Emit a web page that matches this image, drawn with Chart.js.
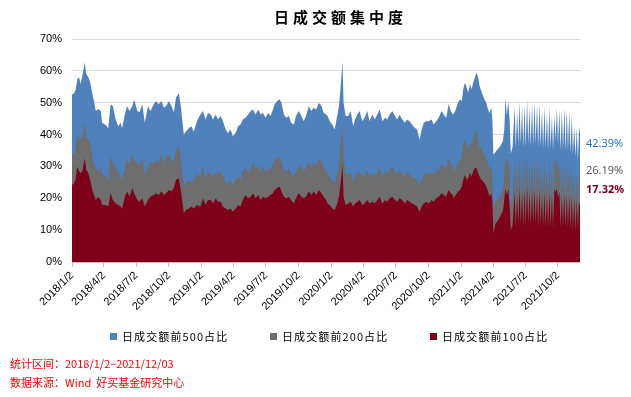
<!DOCTYPE html>
<html><head><meta charset="utf-8">
<script src="https://cdn.jsdelivr.net/npm/chart.js@4.4.0/dist/chart.umd.min.js"></script>
<style>
html,body{margin:0;padding:0;background:#fff;width:631px;height:397px;overflow:hidden;font-family:"Noto Sans CJK SC","Noto Sans",sans-serif}
#wrap{position:relative;width:631px;height:397px}
#c{position:absolute;left:0;top:0}
#title{position:absolute;left:274px;top:8px;font-size:15px;line-height:17px;font-weight:bold;letter-spacing:4px;color:#000;white-space:nowrap}
#legend{position:absolute;left:110px;top:328px;display:flex;align-items:center;font-size:11px;line-height:16px;color:#000;white-space:nowrap}
#legend .it{display:flex;align-items:center;width:160px}
#legend .sw{display:inline-block;width:7px;height:7px;margin-right:5px}
#legend .tx{letter-spacing:1.1px}
#notes{position:absolute;left:10px;top:354px;font-size:11px;line-height:19px;color:#ff0000;white-space:pre}
.vl{position:absolute;left:586px;font-family:"Noto Sans","DejaVu Sans",sans-serif;font-size:11px;line-height:14px;white-space:nowrap}
</style></head>
<body><div id="wrap">
<canvas id="c" width="631" height="397"></canvas>
<div id="title">日成交额集中度</div>
<div id="legend"></div>
<div id="notes"></div>
<div class="vl" id="v500" style="top:136px;color:#2e75b6"></div>
<div class="vl" id="v200" style="top:163px;color:#595959"></div>
<div class="vl" id="v100" style="top:182px;color:#7f0019;font-weight:bold"></div>
</div>
<script>
// days since 2018/1/2 for each sample
const dayOffsets = [
0,6,10,15,20,24,29,36,40,46,52,57,62,67,74,81,85,95,102,109,115,123,130,137,141,149,155,162,170,175,184,190,198,205,214,221,230,237,244,252,259,265,273,280,287,293,301,307,315,321,329,336,343,352,359,
362,369,376,383,391,397,405,411,419,425,433,439,447,453,461,468,475,481,489,496,503,510,517,525,531,538,545,553,559,566,571,578,585,590,597,603,611,617,625,631,639,646,653,659,667,674,681,688,695,703,709,716,
720,726,733,740,747,752,757,762,765,771,778,785,792,797,804,810,818,824,832,838,846,853,860,867,874,882,888,895,902,910,916,923,930,938,944,951,958,966,972,979,985,991,998,1005,1013,1019,1026,1033,1041,1047,1054,1061,1067,1073,
1074,1081,1087,1093,1098,1102,1107,1112,1116,1121,1126,1130,1135,1139,1144,1148,1153,1158,1162,1167,1172,1176,1181,1184,
1187,1193,1200,1207,1214,1218,1221,1225,1229,1233,1236,1241,
1247,1250,1254,1257,1261,1264,1268,1271,1275,1278,1282,1285,1289,1292,1296,1299,1303,1306,1310,1313,1317,1320,1324,1327,1331,1334,1338,1341,1345,1348,1352,1355,1359,1362,1366,1369,1373,1376,1380,1383,1387,1390,1394,1397,1401,1404,1408,1411,1415,1418,1422,1425,1428,1431
];
const top500 = [
52.6,53,54,57.4,58,55.8,58.4,62.6,59,58,56,53,50.5,47.4,48,47.4,43.7,43,42,49.5,49,44.7,42.6,43.7,42,46.3,49,47.4,49,51,47.4,47,49.5,43.7,49,47.4,49.5,50.5,49.5,50.5,48.4,49,50.5,49,47,51.6,53,48.4,40,41,42,42.6,41,44.2,45.8,
46.3,47.4,44.7,46.8,46.3,44.7,46.3,44.7,45.8,44.2,41.6,40.5,41.6,39.5,40.5,42.6,43.2,44.7,45.3,46.3,47.4,47.9,46.3,47.9,46.3,46.8,45.3,46.8,45.8,47.9,49.5,50.5,51,50,46.3,45.3,45.8,43.7,43.2,45.8,47.4,45.8,44.2,45.8,48.9,47.4,48.4,47.9,50,48.9,46.8,46.3,
45.8,44.2,43.2,41.6,45.8,48.9,55.3,62.8,50,45.8,45.8,47.4,42.6,44.7,46.3,47.4,44.2,45.3,47.4,44.2,46.3,44.7,46.3,47.9,44.2,45.3,44.7,46.3,47.4,45.8,44.7,46.3,44.7,43.7,44.7,44.2,43.2,42.1,41.6,38.4,41.6,43.7,44.2,44.2,44.7,43.2,44.2,45.3,47.4,46.3,45.3,49.5,47.4,46.3,
46.3,47.9,50,51,50.5,54.2,56.3,54.7,53.2,55.8,54.2,56.3,57.9,59.5,57.9,55.3,53.7,52.1,51,50,47.9,46.8,48.4,45,
33.7,34.5,35.5,36.5,38,42,51.5,46,50.5,44,34,36,
48.9,36,47.4,36.5,50.5,37,48.9,36,49.5,36,51,37,48.9,36,50,36.5,50.5,37,49.5,36,50,36,47.9,35.5,48.9,36,46.8,35,48.9,36,45.8,35,46.3,38,48.4,37,47.9,35,47.4,35,48.4,35,47.9,35,47.4,34,45.8,34,42.6,33,42.1,32,40.5,42.39
];
const top200 = [
34.2,33.7,35.3,40.5,38.4,39.5,38.4,44.2,39.5,38.4,37.4,33.7,30.5,29.5,28.4,29.5,27.4,26.8,25.8,33.2,31,29.5,27.9,26.8,25.8,29.5,32.1,31,33.7,32.1,31,30.5,32.6,27.4,30,31.6,30.5,32.1,31,33.7,31,33.2,33.7,32.1,31.6,35.3,36.3,32.1,23.7,24.7,25.8,24.7,25.8,27.9,26.8,
26.8,30,26.3,28.4,27.9,26.8,28.4,27.9,28.4,26.8,24.7,24.7,25.8,23.7,25.8,26.8,25.8,28.4,29.5,28.4,29.5,31,29.5,30,28.4,30,28.4,28.9,29.5,30.5,32.6,32.1,33.2,31.6,28.9,28.4,29.5,27.9,26.8,28.4,30.5,29.5,28.4,29.5,31.6,30,31,30.5,32.1,31.6,29.5,28.4,
27.9,26.8,25.8,24.7,27.9,31,37.4,42.7,32.1,27.9,27.4,28.4,25.3,26.8,27.9,28.4,26.8,27.4,28.9,26.8,27.9,26.8,27.9,30,26.8,28.4,27.9,28.9,30,28.4,27.4,28.9,27.9,26.8,28.4,27.4,26.8,26.3,25.8,23.7,25.8,27.4,27.9,27.4,28.4,27.4,28.4,28.9,31,30,29.5,32.6,31,30,
28.4,29.5,31,32.1,32.6,37.4,38.4,36.3,35.3,37.9,36.3,38.9,40.5,41.6,38.4,35.3,36.3,34.2,33.7,32.1,31,28.9,30,27.9,
17,19,20,21,23,27,34,30,33,27,18,20,
32,20,31,21,33,21,32,20,33,20,34,21,32,20,33,21,33,21,32,20,33,20.5,31,20,32,20,30,19.5,32,20,30,19,33,30,33,28,31,20,31,19.5,31,19.5,31,19,30.5,19,30,18.5,29,18,28.5,17.5,28,26.19
];
const top100 = [
24.2,24.7,25.8,30,28.4,27.9,28.4,32.6,28.9,27.9,25.3,22.6,21,19.5,20.5,19.5,17.9,17.9,17.4,21.6,19.5,18.4,17.9,17.4,16.8,20.5,22.1,20.5,23.2,21.6,19.5,18.9,20,17.4,19.5,20.5,21,21.6,21,22.1,21,21.6,22.6,22.1,23.2,25.8,26.3,22.1,15.3,16.3,16.8,17.4,16.8,17.9,17.4,
17.4,20,17.9,19.5,19.5,18.4,20,18.9,18.9,17.4,16.8,16.3,16.8,15.8,16.8,17.9,17.4,19.5,21,20,20.5,21.6,20,21,19.5,20.5,20,20.5,21,21.6,22.6,23.2,23.7,22.1,20.5,20,20.5,19.5,18.4,20,21.6,20.5,20,20.5,22.1,21,22.1,21,22.6,21.6,20.5,19.5,
18.4,17.9,16.8,16.3,18.4,20.5,24.7,30.6,20.5,17.9,18.4,18.9,17.4,18.4,18.9,19.5,17.9,18.4,19.5,18.4,18.9,18.4,19.5,20.5,18.4,19.5,18.9,20,20.5,19.5,18.9,20,19.5,18.4,19.5,18.9,18.4,17.9,17.4,15.8,17.4,18.4,18.9,18.4,19.5,18.9,20,20.5,21.6,21,20.5,22.6,21.6,21,
20,21,22.1,22.6,23.7,25.8,27.4,25.8,26.3,27.9,26.8,28.4,29.5,29.5,27.9,26.8,25.8,25.3,24.7,23.7,22.1,20.5,21.6,19.5,
9,12,13,14.5,16,20,23,21,23,17,10,11.5,
22,11,21,12,23,12,22,11,23,11.5,24,12,22,11,22.5,12,23,12,22,11,22.5,11.5,21,11,22,11,21,10.5,22,11,21,10.5,23,22,23,20,22,11,21,11,21.5,11,21,10.5,21,10.5,20.5,10,20,10,19.5,9.5,19,17.32
];
const tickLabels = ['2018/1/2','2018/4/2','2018/7/2','2018/10/2','2019/1/2','2019/4/2','2019/7/2','2019/10/2','2020/1/2','2020/4/2','2020/7/2','2020/10/2','2021/1/2','2021/4/2','2021/7/2','2021/10/2'];
const seriesNames = ['日成交额前500占比','日成交额前200占比','日成交额前100占比'];
const seriesColors = ['#4f81bd','#6e6e6e','#7f0019'];
const notes = ['统计区间：2018/1/2–2021/12/03','数据来源：Wind  好买基金研究中心'];

const toDay = s => { const [y,m,d] = s.split('/').map(Number); return Math.round((Date.UTC(y,m-1,d)-Date.UTC(2018,0,2))/86400000); };
const tickDays = tickLabels.map(toDay);
const lastDay = dayOffsets[dayOffsets.length-1];
const mk = arr => arr.map((v,i)=>({x:dayOffsets[i], y:v}));
const values = [top500, top200, top100];

const datasets = values.map((arr,i)=>({
  label: seriesNames[i], data: mk(arr), backgroundColor: seriesColors[i], borderColor: seriesColors[i],
  borderWidth: 0, pointRadius: 0, fill: 'origin', tension: 0, order: 3-i
}));

const tickFont = {family:'"Liberation Sans", Arial, sans-serif', size:11};
new Chart(document.getElementById('c'), {
  type:'line',
  data:{datasets},
  options:{
    responsive:false, animation:false, events:[],
    layout:{padding:{left:0,right:51,top:39,bottom:75}},
    plugins:{legend:{display:false}, title:{display:false}, tooltip:{enabled:false}},
    scales:{
      x:{type:'linear', min:0, max:lastDay,
        afterBuildTicks: ax => { ax.ticks = tickDays.map(v=>({value:v})); },
        afterFit: s => { s.height = 60; },
        ticks:{autoSkip:false, maxRotation:45, minRotation:45, font:tickFont, color:'#000', padding:2,
          callback:(v)=>{ const i = tickDays.indexOf(v); return i>=0 ? tickLabels[i] : ''; }},
        grid:{drawOnChartArea:false, drawTicks:true, tickLength:5, color:'#bfbfbf'},
        border:{color:'#bfbfbf'}
      },
      y:{min:0, max:70,
        afterFit: s => { s.width = 72; },
        ticks:{stepSize:10, font:tickFont, color:'#000', padding:10, callback:v=>v+'%'},
        grid:{color:'#d9d9d9', drawTicks:false},
        border:{display:false}
      }
    }
  }
});

// legend (html)
const lg = document.getElementById('legend');
seriesNames.forEach((n,i)=>{
  const it = document.createElement('span'); it.className='it';
  it.innerHTML = '<span class="sw" style="background:'+seriesColors[i]+'"></span><span class="tx">'+n+'</span>';
  lg.appendChild(it);
});
document.getElementById('notes').textContent = notes.join('\n');
document.getElementById('v500').textContent = top500[top500.length-1].toFixed(2)+'%';
document.getElementById('v200').textContent = top200[top200.length-1].toFixed(2)+'%';
document.getElementById('v100').textContent = top100[top100.length-1].toFixed(2)+'%';
</script>
</body></html>
